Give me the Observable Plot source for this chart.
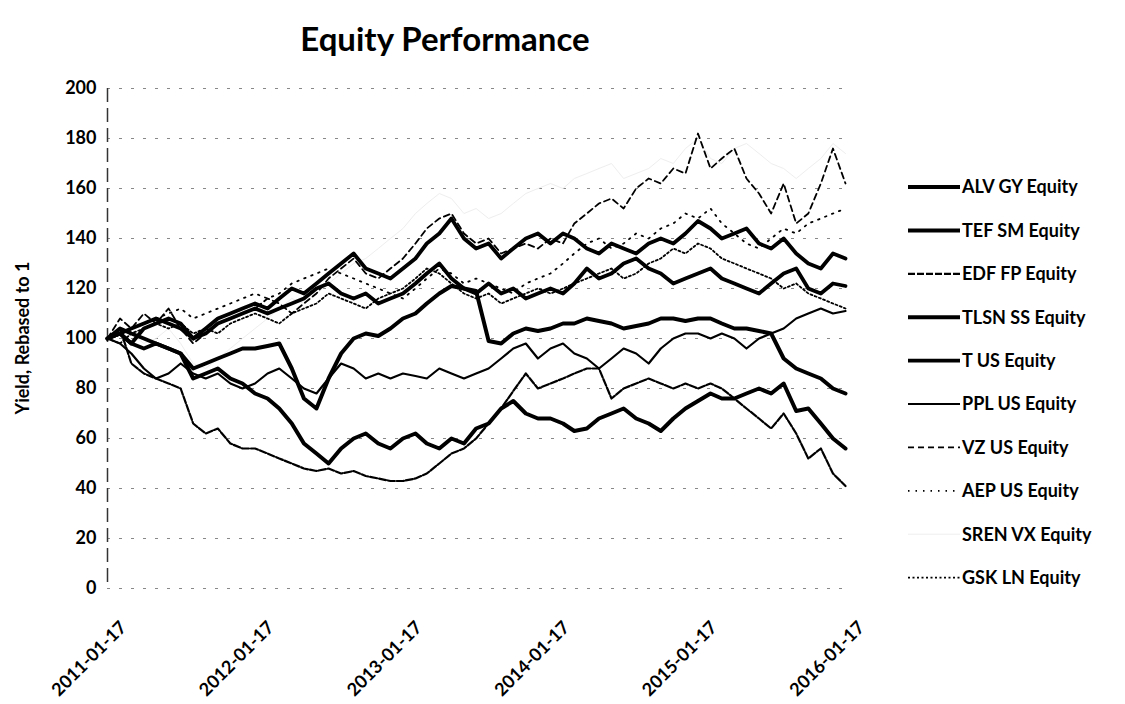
<!DOCTYPE html>
<html><head><meta charset="utf-8">
<script src="https://cdn.jsdelivr.net/npm/d3@7"></script>
<script src="https://cdn.jsdelivr.net/npm/@observablehq/plot@0.6"></script>
<style>
html,body{margin:0;padding:0;background:#fff;}
#wrap{position:relative;width:1125px;height:704px;overflow:hidden;font-family:Lato,"Open Sans",sans-serif;font-weight:bold;color:#000;}
#chart{position:absolute;left:0;top:0;}
#title{position:absolute;left:0;width:890px;top:20px;text-align:center;font-size:33px;line-height:36px;}
#ylabel{position:absolute;left:22px;top:338px;transform:translate(-50%,-50%) rotate(-90deg);white-space:nowrap;font-size:18px;}
#legend{position:absolute;left:900px;top:160px;}
</style></head>
<body><div id="wrap"><div id="chart"></div><div id="title">Equity Performance</div><div id="ylabel">Yield, Rebased to 1</div><svg id="legend" width="225" height="440"></svg></div>
<script>
// ---- data ----
const seriesNames = ["ALV GY Equity","TEF SM Equity","EDF FP Equity","TLSN SS Equity","T US Equity","PPL US Equity","VZ US Equity","AEP US Equity","SREN VX Equity","GSK LN Equity"];
const startDate = "2011-01-17";
const xTickLabels = ["2011-01-17","2012-01-17","2013-01-17","2014-01-17","2015-01-17","2016-01-17"];
const yTicks = [0,20,40,60,80,100,120,140,160,180,200];

// monthly values, Jan 2011 .. Jan 2016
const ALV = [100,102,98,104,106,108,106,100,104,108,110,112,
             114,112,116,120,118,122,126,130,134,128,126,124,
             128,132,138,142,148,140,136,138,132,136,140,142,
             138,142,140,136,134,138,136,134,138,140,138,142,
             147,144,140,142,144,138,136,140,134,130,128,134,
             132];
const TEF = [100,104,102,100,98,96,94,84,86,88,84,82,
             78,76,72,66,58,54,50,56,60,62,58,56,
             60,62,58,56,60,58,64,66,72,75,70,68,
             68,66,63,64,68,70,72,68,66,63,68,72,
             75,78,76,76,78,80,78,82,71,72,66,60,
             56];
const EDF = [100,104,90,86,84,82,80,66,62,64,58,56,
             56,54,52,50,48,47,48,46,47,45,44,43,
             43,44,46,50,54,56,60,66,72,79,86,80,
             82,84,86,88,88,76,80,82,84,82,80,82,
             80,82,80,76,72,68,64,70,62,52,56,46,
             41];
const TLSN = [100,102,98,96,98,96,94,88,90,92,94,96,
              96,97,98,88,76,72,84,94,100,102,101,104,
              108,110,114,118,121,120,119,99,98,102,104,103,
              104,106,106,108,107,106,104,105,106,108,108,107,
              108,108,106,104,104,103,102,92,88,86,84,80,
              78];
const T_US = [100,102,104,106,108,106,104,100,102,106,108,110,
              112,110,112,114,116,120,122,118,116,118,114,116,
              118,122,126,130,124,120,118,122,118,120,116,118,
              120,118,122,128,124,126,130,132,128,126,122,124,
              126,128,124,122,120,118,122,126,128,120,118,122,
              121];
const PPL = [100,98,94,88,84,86,90,86,84,86,82,80,
             82,86,88,84,80,78,84,90,88,84,86,84,
             86,85,84,88,86,84,86,88,92,96,98,92,
             96,98,94,92,88,92,96,94,90,96,100,102,
             102,100,102,100,96,100,102,104,108,110,112,110,
             111];
const VZ = [100,108,104,110,106,112,104,98,102,106,108,110,
            112,116,114,110,114,118,124,128,132,126,124,128,
            132,138,144,148,150,142,138,140,134,136,138,136,
            140,138,146,150,154,156,152,160,164,162,168,166,
            182,168,172,176,164,158,150,162,146,150,162,176,
            162];
const AEP = [100,102,104,106,108,110,112,108,110,112,114,116,
             118,116,118,122,124,126,128,126,124,122,120,118,
             116,120,124,128,126,122,124,122,120,118,122,124,
             126,130,134,138,140,136,138,142,140,144,146,150,
             148,152,146,142,138,136,140,144,142,146,148,150,
             152];
const SREN = [100,104,102,98,100,104,98,90,88,92,96,100,
              104,108,112,116,114,118,122,126,130,132,136,140,
              144,150,154,158,156,150,152,148,150,154,158,160,
              162,160,164,166,168,170,164,166,168,172,170,176,
              180,172,170,176,178,174,170,168,164,168,172,178,
              174];
const GSK = [100,98,102,104,106,104,106,102,104,102,106,108,
             110,108,106,110,112,114,118,116,114,112,116,118,
             120,124,128,126,122,118,116,118,114,116,118,120,
             118,120,122,124,126,128,124,126,130,132,136,134,
             138,136,132,130,128,126,124,120,122,118,116,114,
             112];
const seriesValues = [ALV, TEF, EDF, TLSN, T_US, PPL, VZ, AEP, SREN, GSK];

// ---- styles (not data) ----
const styles = [
  {color:"#000", width:3.8, dash:null},
  {color:"#000", width:4,   dash:null},
  {color:"#000", width:2.2, dash:"7,2"},
  {color:"#000", width:4,   dash:null},
  {color:"#000", width:3.8, dash:null},
  {color:"#000", width:2.2, dash:null},
  {color:"#000", width:1.8, dash:"6,4"},
  {color:"#000", width:1.8, dash:"1.5,6"},
  {color:"#eeeeee", width:1, dash:null},
  {color:"#000", width:1.8, dash:"2,2.5"}
];
const drawOrder = [8,7,9,6,5,2,0,4,3,1];

const parse = d3.utcParse("%Y-%m-%d");
const t0 = parse(startDate);
const months = d3.range(ALV.length).map(i => d3.utcMonth.offset(t0, i));
const tickDates = xTickLabels.map(parse);

const lineMarks = drawOrder.map(k => {
  const rows = seriesValues[k].map((v, i) => ({date: months[i], value: v, series: seriesNames[k]}));
  const s = styles[k];
  return Plot.line(rows, {x: "date", y: "value", stroke: s.color, strokeWidth: s.width,
    strokeDasharray: s.dash || undefined, strokeLinejoin: "round"});
});

const chart = Plot.plot({
  width: 1125, height: 704,
  marginLeft: 107, marginRight: 280, marginTop: 88, marginBottom: 116,
  x: {type: "utc", domain: [tickDates[0], tickDates[tickDates.length-1]]},
  y: {domain: [0, 200]},
  style: {fontFamily: "Lato, 'Open Sans', sans-serif", fontSize: "18px", fontWeight: "bold", color: "#000", background: "transparent"},
  marks: [
    Plot.gridY(yTicks, {stroke: "#888", strokeOpacity: 1, strokeDasharray: "3,9"}),
    Plot.ruleX([tickDates[0]], {stroke: "#333", strokeWidth: 1.5, strokeDasharray: "14,6"}),
    Plot.axisY(yTicks, {tickSize: 0, tickPadding: 11, label: null, fontSize: 18, fontWeight: "bold"}),
    Plot.axisX(tickDates, {tickSize: 0, tickRotate: -45, tickPadding: 36, dx: 16,
      tickFormat: d3.utcFormat("%Y-%m-%d"), label: null, fontSize: 18, fontWeight: "bold"}),
    ...lineMarks
  ]
});
document.getElementById("chart").appendChild(chart);

// ---- legend ----
const leg = d3.select("#legend");
const rowY = i => 27 + i * 43.4;
seriesNames.forEach((name, k) => {
  const s = styles[k];
  const g = leg.append("g").attr("transform", `translate(0,${rowY(k)})`);
  g.append("line").attr("x1", 8).attr("x2", 60).attr("y1", 0).attr("y2", 0)
    .attr("stroke", s.color).attr("stroke-width", s.width)
    .attr("stroke-dasharray", s.dash);
  g.append("text").attr("x", 62).attr("y", 0).attr("dy", "0.35em")
    .attr("font-family", "Lato, 'Open Sans', sans-serif").attr("font-weight", "bold")
    .attr("font-size", 18).text(name);
});
</script></body></html>
